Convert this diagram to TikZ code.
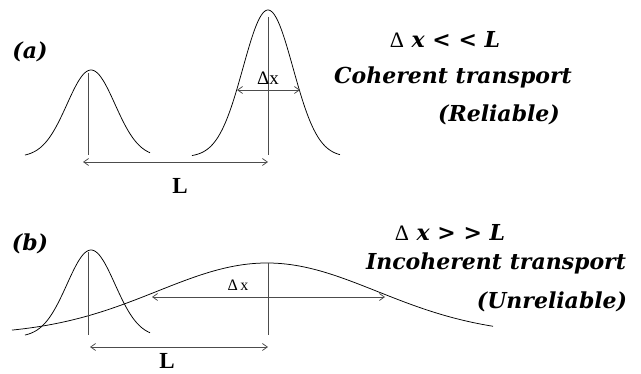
\documentclass[tikz,border=0pt]{standalone}
\usepackage{fontspec}
\usetikzlibrary{arrows.meta}
\newfontfamily\lblfont{DejaVu Serif}
\newfontfamily\timesfont{Liberation Serif}
\begin{document}
\begin{tikzpicture}[x=1pt,y=-1pt,
  curve/.style={line width=0.75pt, black},
  axisline/.style={line width=0.75pt, black!70},
  dim/.style={line width=0.75pt, black!70, {Straight Barb[length=5pt,width=7pt]}-{Straight Barb[length=5pt,width=7pt]}},
  lbl/.style={font=\fontsize{22}{26}\selectfont\lblfont\bfseries\itshape, inner sep=0pt},
  dlbl/.style={font=\fontsize{23}{26}\selectfont\timesfont\bfseries, inner sep=0pt},
  dx/.style={inner sep=0pt}]
\useasboundingbox (0,0) rectangle (641,374);

% ---------- panel (a) ----------
\node[lbl] (pa) at (30,52) {(a)};
\draw[curve] plot[domain=25:150, samples=70, smooth] (\x, {157-87*exp(-0.5*((\x-91)/24)^2)});
\draw[curve] plot[domain=192:340, samples=80, smooth] (\x, {157-147*exp(-0.5*((\x-268)/25)^2)});
\coordinate (la1) at (88,73);  \coordinate (la2) at (88,155);
\coordinate (ra1) at (268,17); \coordinate (ra2) at (268,155);
\draw[axisline] (la1) -- (la2);
\draw[axisline] (ra1) -- (ra2);
\coordinate (dxa1) at (237,90); \coordinate (dxa2) at (300,90);
\draw[dim] (dxa1) -- (dxa2);
\node[dx, font=\fontsize{19}{22}\selectfont\timesfont] (dxla) at (268,78) {Δx};
\coordinate (La1) at (83,162); \coordinate (La2) at (268,162);
\draw[dim] (La1) -- (La2);
\node[dlbl] (Lla) at (180,186) {L};

\node[lbl] (ta1) at (445,39) {{\timesfont\mdseries\upshape Δ}~x~<~<~L};
\node[lbl] (ta2) at (453,77) {Coherent transport};
\node[lbl] (ta3) at (499,115) {(Reliable)};

% ---------- panel (b) ----------
\node[lbl] (pb) at (30,244) {(b)};
\draw[curve] plot[domain=25:150, samples=70, smooth] (\x, {337-87*exp(-0.5*((\x-91)/24)^2)});
\draw[curve] plot[domain=12:493, samples=120, smooth] (\x, {335-72*exp(-0.5*((\x-267)/110)^2)});
\coordinate (lb1) at (88,252);  \coordinate (lb2) at (88,335);
\coordinate (rb1) at (268,263); \coordinate (rb2) at (268,335);
\draw[axisline] (lb1) -- (lb2);
\draw[axisline] (rb1) -- (rb2);
\coordinate (dxb1) at (152,297); \coordinate (dxb2) at (385,297);
\draw[dim] (dxb1) -- (dxb2);
\node[dx, font=\fontsize{16}{18}\selectfont\timesfont] (dxlb) at (238,285) {Δ\,x};
\coordinate (Lb1) at (90,347); \coordinate (Lb2) at (268,347);
\draw[dim] (Lb1) -- (Lb2);
\node[dlbl] (Llb) at (167,361) {L};

\node[lbl] (tb1) at (450,232) {{\timesfont\mdseries\upshape Δ}~x~>~>~L};
\node[lbl] (tb2) at (496,263) {Incoherent transport};
\node[lbl] (tb3) at (552,302) {(Unreliable)};
\end{tikzpicture}
\end{document}
